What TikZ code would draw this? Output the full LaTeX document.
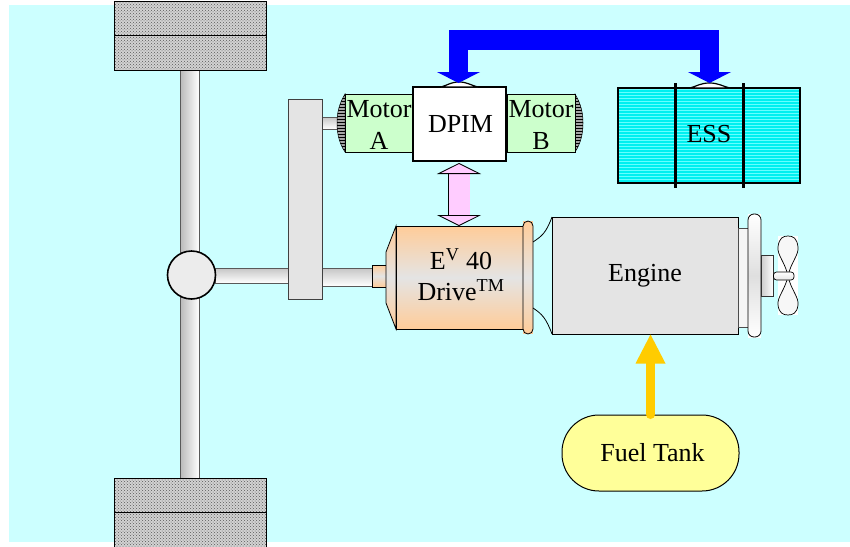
\documentclass[tikz,border=0pt]{standalone}
\usepackage{fontspec}
\setmainfont{Liberation Serif}
\usetikzlibrary{arrows.meta,patterns}
\definecolor{panelcyan}{HTML}{CCFFFF}
\definecolor{motorgreen}{HTML}{CCFFCC}
\definecolor{casegray}{HTML}{E4E4E4}
\definecolor{driveorange}{HTML}{FFCC99}
\definecolor{fuelyellow}{HTML}{FFFF99}
\definecolor{linkpink}{HTML}{FFCCFF}
\definecolor{fuelflow}{HTML}{FFCC00}
\definecolor{essbase}{HTML}{00F0F0}
\definecolor{essstripe}{HTML}{66FFFF}
\tikzset{
  label text/.style={font=\fontsize{26}{30}\selectfont, align=center, text=black, inner sep=0pt},
  wheelbox/.style={draw=black, line width=1pt, pattern=crosshatch dots, pattern color=gray!70!black, preaction={fill=gray!35}},
  rodv/.style={draw=gray!70!black, line width=.8pt, left color=gray!55, right color=white},
  rodh/.style={draw=gray!70!black, line width=.8pt, top color=gray!45, bottom color=white},
  endcap/.style={draw=black, line width=.5pt, pattern=horizontal lines, pattern color=black, preaction={fill=gray!70}},
  motorbox/.style={draw=black, line width=1pt, fill=motorgreen, minimum width=68pt, minimum height=58pt, inner sep=0pt},
  portbump/.style={draw=black, fill=white, line width=1.2pt},
}
\begin{document}
\begin{tikzpicture}[x=1pt,y=-1pt]
  \useasboundingbox (0,0) rectangle (850,546);
  \fill[panelcyan] (9,5) rectangle (850,542);

  % Axle and wheels
  \draw[rodv] (180,70) rectangle (199,478);
  \draw[rodh] (215,268) rectangle (288,283);
  \draw[wheelbox] (114,1) rectangle (266,70);
  \draw[black, line width=1pt] (114,35) -- (266,35);
  \draw[wheelbox] (114,478) rectangle (266,548);
  \draw[black, line width=1pt] (114,512) -- (266,512);
  \node[circle, draw=black, line width=1.6pt, fill=gray!15, minimum size=48pt, inner sep=0pt] (diff) at (191.5,275) {};

  % Gearbox and shafts
  \draw[rodh] (322,268) rectangle (372,286);
  \draw[rodh] (322,117) rectangle (338,129);
  \node[draw=gray!50!black, line width=1pt, fill=casegray, minimum width=34pt, minimum height=200pt, inner sep=0pt] (gearbox) at (305,199.5) {};

  % Motors and power inverter
  \draw[endcap] (345,94) .. controls (339,104) and (337,113) .. (337,123) .. controls (337,133) and (339,143) .. (345,152) -- cycle;
  \draw[endcap] (575,94) .. controls (581,104) and (583,113) .. (583,123) .. controls (583,133) and (581,143) .. (575,152) -- cycle;
  \node[motorbox, label text] (motora) at (379,123) {};
  \node[motorbox, label text] (motorb) at (541,123) {};
  \node[label text] (motoralabel) at (379,125) {Motor\\[2pt]A};
  \node[label text] (motorblabel) at (541,125) {Motor\\[2pt]B};
  \node[draw=black, line width=1.5pt, fill=white, minimum width=93pt, minimum height=74pt, label text] (dpim) at (459.5,124) {\hspace*{2pt}DPIM};
  \draw[portbump] (441,87) .. controls (448,85) and (451,82) .. (459,82) .. controls (467,82) and (470,85) .. (478,87) -- cycle;

  % Energy storage
  \node[draw=black, line width=1.3pt, pattern=horizontal lines, pattern color=essstripe, preaction={fill=essbase}, minimum width=182pt, minimum height=95pt, label text] (ess) at (709,135.5) {\raisebox{3pt}{ESS}};
  \draw[black, line width=3pt] (675,83) -- (675,188);
  \draw[black, line width=3pt] (743.5,83) -- (743.5,188);
  \draw[portbump] (690,88) .. controls (697,86) and (701,83) .. (709.5,83) .. controls (718,83) and (722,86) .. (730,88) -- cycle;

  % Drive unit
  \draw[black, line width=.8pt, top color=driveorange, bottom color=driveorange, middle color=casegray] (372,265) rectangle (387,287);
  \draw[black, line width=.8pt, top color=driveorange, bottom color=driveorange, middle color=casegray] (396,226) -- (386,252) -- (386,303) -- (396,329) -- cycle;
  \node[draw=black, line width=1pt, top color=driveorange, bottom color=driveorange, middle color=casegray, minimum width=127pt, minimum height=103pt, label text] (drive) at (459.5,277.5) {};
  \node[label text] (drivelabel) at (461,275) {E\textsuperscript{V} 40\\[1pt]Drive\textsuperscript{TM}};
  \fill[driveorange] (523,221) rectangle (533,334);
  \draw[black, line width=.8pt, rounded corners=5pt, left color=driveorange, right color=driveorange, middle color=casegray, shading angle=0] (523,221) rectangle (533,334);
  \draw[black, line width=.8pt] (533,242) .. controls (542,236) and (546,233) .. (552,217);
  \draw[black, line width=.8pt] (533,308) .. controls (542,314) and (546,318) .. (552,334);

  % Engine and fan
  \node[draw=black, line width=1pt, fill=casegray, minimum width=186pt, minimum height=117pt, label text] (engine) at (645,275.5) {\raisebox{2pt}{Engine}};
  \draw[draw=gray!60!black, line width=.8pt, fill=gray!8] (738,228) rectangle (748,327);
  \fill[white] (748,214) rectangle (761,338);
  \draw[black, line width=.8pt, rounded corners=6pt, top color=white, bottom color=white, middle color=gray!25] (748,214) rectangle (761,337);
  \draw[draw=gray!40!black, line width=.8pt, left color=gray!40, right color=white] (761,255) rectangle (773.5,296);
  \fill[white] (777.5,236) rectangle (798,315);
  \draw[black, line width=.7pt, fill=gray!6] (788,276) .. controls (785,262) and (777,255) .. (778,247) .. controls (779,238) and (783,236) .. (788,236) .. controls (793,236) and (797,238) .. (798,247) .. controls (799,255) and (791,262) .. (788,276);
  \draw[black, line width=.7pt, fill=gray!6] (788,276) .. controls (785,290) and (777,297) .. (778,305) .. controls (779,313) and (783,315) .. (788,315) .. controls (793,315) and (797,313) .. (798,305) .. controls (799,297) and (791,290) .. (788,276);
  \draw[black, line width=.7pt, rounded corners=3pt, top color=white, bottom color=gray!20] (773.5,272) rectangle (794,280);

  % Fuel tank
  \node[draw=black, line width=1pt, fill=fuelyellow, rounded corners=37pt, minimum width=177pt, minimum height=76pt, label text] (tank) at (650.5,453) {\hspace*{4pt}\raisebox{1pt}{Fuel Tank}};

  % Flows
  \coordinate (dpimport) at (458.5,83);
  \coordinate (essport) at (709.5,83);
  \draw[draw=blue, line width=19.5pt, {Triangle[length=11pt,width=43pt,line width=0pt]}-{Triangle[length=11pt,width=43pt,line width=0pt]}] (dpimport) |- (583,40) -| (essport);
  \draw[draw=black, line width=.8pt, double=linkpink, double distance=21pt, {Triangle[length=11pt,width=44pt,fill=linkpink,line width=.8pt]}-{Triangle[length=11pt,width=44pt,fill=linkpink,line width=.8pt]}] (459,163) -- (459,226);
  \draw[draw=fuelflow, line width=9pt, line cap=round, -{Triangle[length=29pt,width=30pt,line width=0pt]}] (tank.north) -- (tank.north |- engine.south);
\end{tikzpicture}
\end{document}
